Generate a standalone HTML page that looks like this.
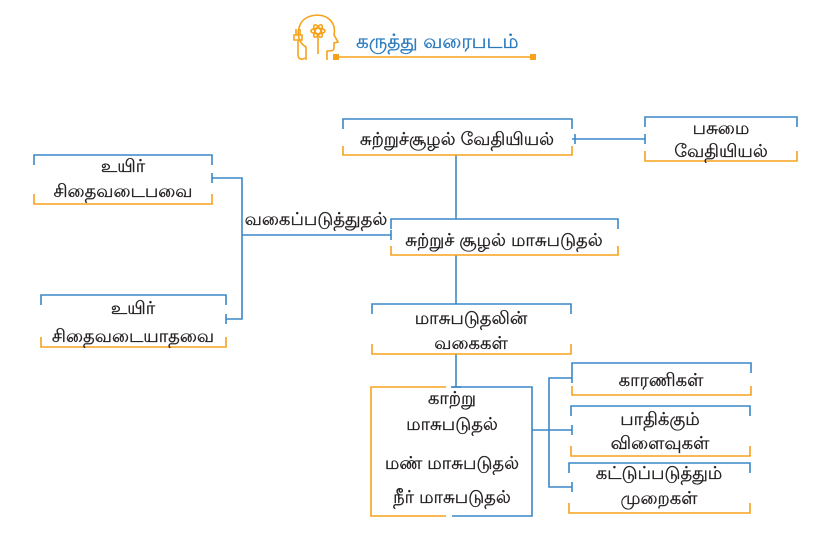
<!DOCTYPE html>
<html><head><meta charset="utf-8"><style>
html,body{margin:0;padding:0;background:#fff;}
svg{display:block;}
text{font-family:"Liberation Sans","Noto Sans CJK SC",sans-serif;fill:#231f20;font-size:18px;text-anchor:middle;stroke:#231f20;stroke-width:0.35;}
</style></head><body>
<svg width="837" height="537" viewBox="0 0 837 537" xmlns="http://www.w3.org/2000/svg">
<g fill="none" stroke-width="1.6">
<g stroke="#f7a21b" stroke-width="1.6">
<path d="M306 60 V47 C299 43 296 34 300 25 C304 15 320 12 329 19 C335 24 335 31 334 35 L338 42 L334 43 V48 C334 51 331 51 327 51 V60"/>
<ellipse cx="318" cy="31" rx="7" ry="2.8"/>
<ellipse cx="318" cy="31" rx="7" ry="2.8" transform="rotate(60 318 31)"/>
<ellipse cx="318" cy="31" rx="7" ry="2.8" transform="rotate(-60 318 31)"/>
<path d="M318 37 V54"/>
<path d="M296 29 V35 M300 29 V35 M294 35 H302 V40 H294 Z M298 40 V54 C298 60 302 60 305 58"/>
</g>
<rect x="333" y="54" width="6" height="6" fill="#f7a21b" stroke="none"/>
<rect x="530" y="54" width="6" height="6" fill="#f7a21b" stroke="none"/>
<line x1="336" y1="57" x2="533" y2="57" stroke="#f7a21b" stroke-width="1.6"/>

<g stroke="#3a87c8">
<line x1="456" y1="155" x2="456" y2="219"/>
<line x1="572" y1="139" x2="645" y2="139"/>
<line x1="575" y1="134" x2="575" y2="144"/>
<line x1="645" y1="134" x2="645" y2="144"/>
<line x1="456" y1="255" x2="456" y2="304"/>
<line x1="456" y1="354" x2="456" y2="387"/>
<line x1="451" y1="387" x2="461" y2="387"/>
<path d="M212 178 H242 V319 H226"/>
<line x1="212" y1="173" x2="212" y2="183"/>
<line x1="226" y1="314" x2="226" y2="324"/>
<line x1="242" y1="235" x2="391" y2="235"/>
<line x1="391" y1="230" x2="391" y2="240"/>
<line x1="532" y1="430" x2="549" y2="430"/>
<path d="M572 378 H549 V487 H572 M549 430 H572"/>
<line x1="572" y1="373" x2="572" y2="383"/>
<line x1="572" y1="425" x2="572" y2="435"/>
<line x1="572" y1="482" x2="572" y2="492"/>
</g>

<g>
<path stroke="#3a87c8" d="M343 129 V119 H572 V129"/><path stroke="#f7a21b" d="M343 146 V155 H572 V146"/>
<path stroke="#3a87c8" d="M645 127 V117 H797 V127"/><path stroke="#f7a21b" d="M645 151 V161 H797 V151"/>
<path stroke="#3a87c8" d="M391 229 V219 H618 V229"/><path stroke="#f7a21b" d="M391 246 V255 H618 V246"/>
<path stroke="#3a87c8" d="M34 165 V155 H212 V165"/><path stroke="#f7a21b" d="M34 194 V204 H212 V194"/>
<path stroke="#3a87c8" d="M41 305 V295 H226 V305"/><path stroke="#f7a21b" d="M41 337 V347 H226 V337"/>
<path stroke="#3a87c8" d="M372 314 V304 H571 V314"/><path stroke="#f7a21b" d="M372 344 V354 H571 V344"/>
<path stroke="#3a87c8" d="M572 373 V363 H751 V373"/><path stroke="#f7a21b" d="M572 386 V395 H751 V386"/>
<path stroke="#3a87c8" d="M571 416 V406 H750 V416"/><path stroke="#f7a21b" d="M571 446 V456 H750 V446"/>
<path stroke="#3a87c8" d="M569 473 V463 H750 V473"/><path stroke="#f7a21b" d="M569 503 V513 H750 V503"/>
<path stroke="#f7a21b" d="M446 387 H371 V516 H446"/>
<path stroke="#3a87c8" d="M452 387 H532 V516 H452"/>
</g>
</g>

<text x="356" y="48" style="fill:#2a7abf;stroke:#2a7abf;font-size:20px;text-anchor:start">கருத்து வரைபடம்</text>

<text x="457" y="145">சுற்றுச்சூழல் வேதியியல்</text>
<text x="721" y="134">பசுமை</text>
<text x="721" y="157">வேதியியல்</text>
<text x="504" y="246">சுற்றுச் சூழல் மாசுபடுதல்</text>
<text x="123" y="172">உயிர்</text>
<text x="123" y="197">சிதைவடைபவை</text>
<text x="133" y="314">உயிர்</text>
<text x="133" y="342">சிதைவடையாதவை</text>
<text x="316" y="225">வகைப்படுத்துதல்</text>
<text x="471" y="324">மாசுபடுதலின்</text>
<text x="471" y="349">வகைகள்</text>
<text x="452" y="404">காற்று</text>
<text x="452" y="430">மாசுபடுதல்</text>
<text x="452" y="469">மண் மாசுபடுதல்</text>
<text x="452" y="503">நீர் மாசுபடுதல்</text>
<text x="661" y="386">காரணிகள்</text>
<text x="660" y="425">பாதிக்கும்</text>
<text x="660" y="449">விளைவுகள்</text>
<text x="659" y="479">கட்டுப்படுத்தும்</text>
<text x="659" y="504">முறைகள்</text>
</svg>
</body></html>
